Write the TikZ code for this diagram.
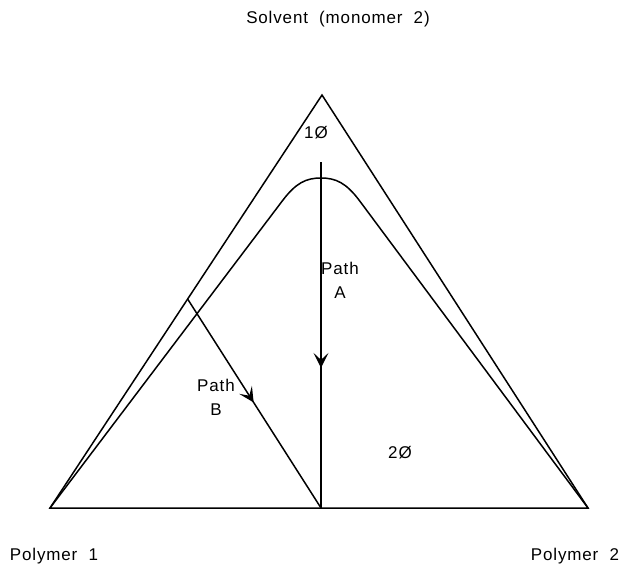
\documentclass[tikz,border=0pt]{standalone}
\usepackage{fontspec}
\setmainfont[LetterSpace=5]{Liberation Sans}
\usetikzlibrary{arrows.meta,decorations.markings,calc}
\tikzset{
  boundary/.style={line width=1.5pt,line join=miter},
  binodal/.style={line width=1.5pt},
  pathline/.style={line width=1.5pt,postaction={decorate},
    decoration={markings,mark=at position #1 with {\arrow{Stealth[length=15pt,width=15pt,inset=7pt]}}}},
  phaselabel/.style={font=\fontsize{17}{24}\selectfont,inner sep=0pt}
}
\begin{document}
\begin{tikzpicture}[x=1pt,y=-1pt]
\useasboundingbox (0,0) rectangle (627,574);
\coordinate (P1) at (50,508);
\coordinate (P2) at (588,508);
\coordinate (S) at (322,95);
\coordinate (top) at (321,178);
\coordinate (Astart) at (321,162);
\coordinate (Aend) at (321,508);
\coordinate (Bstart) at ($(P1)!0.506!(S)$);

% composition triangle and two-phase boundary
\draw[boundary] (P1) -- (S) -- (P2) -- cycle;
\draw[binodal] (P1) -- (283,200) .. controls (296,183) and (306,178) .. (top)
  .. controls (336,178) and (346,183) .. (359,200) -- (P2);

% the two paths
\draw[pathline=0.595] (Astart) -- (Aend);
\draw[pathline=0.495] (Bstart) -- (Aend);

\node[phaselabel] (solvent) at (338,19) {Solvent~~(monomer~~2)};
\node[phaselabel] (poly1) at (54,556) {Polymer~~1};
\node[phaselabel] (poly2) at (575,556) {Polymer~~2};
\node[phaselabel] (one) at (316,133) {1Ø};
\node[phaselabel] (two) at (400,453) {2Ø};
\node[phaselabel,align=center] (labA) at (340,280) {Path\\A};
\node[phaselabel,align=center] (labB) at (216,397) {Path\\B};
\end{tikzpicture}
\end{document}
